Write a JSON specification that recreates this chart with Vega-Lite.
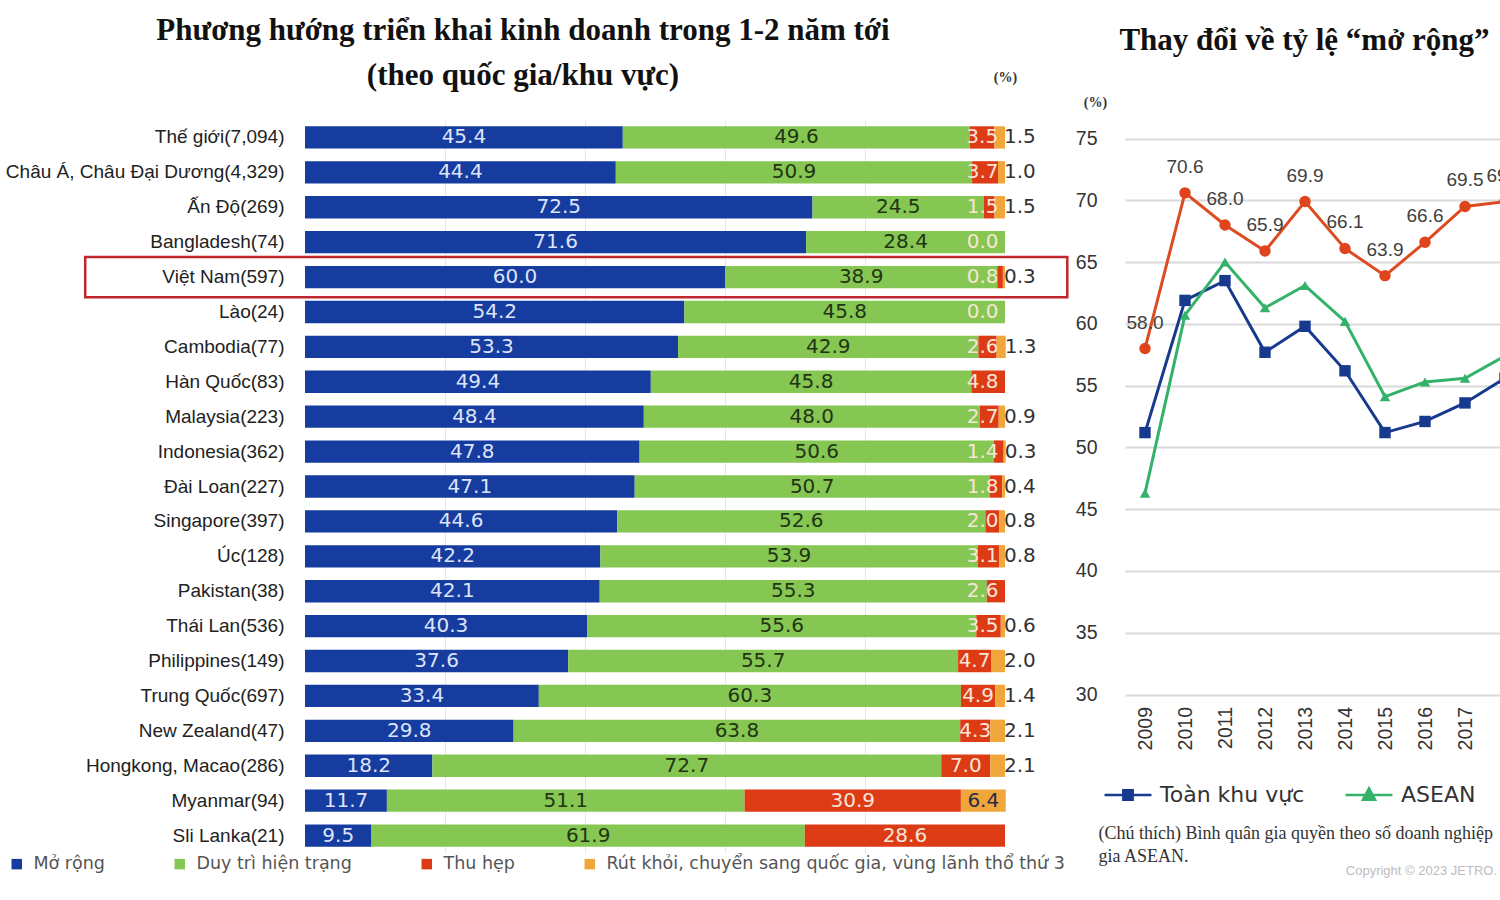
{
  "$schema": "https://vega.github.io/schema/vega-lite/v6.json",
  "background": "white",
  "padding": {"left": 5, "top": 15, "right": 0, "bottom": 2},
  "bounds": "flush",
  "spacing": 120,
  "resolve": {"scale": {"color": "independent"}, "legend": {"color": "independent"}},
  "title": {"text": "Copyright © 2023 JETRO.", "orient": "bottom", "anchor": "end", "fontSize": 13, "font": "Liberation Sans", "fontWeight": "normal", "color": "#bcbcbc", "offset": -8, "dx": -3},
  "config": {"view": {"stroke": null}, "font": "Liberation Sans"},
  "hconcat": [
    {
      "width": 700,
      "height": 733,
      "title": {"text": ["Phương hướng triển khai kinh doanh trong 1-2 năm tới", "(theo quốc gia/khu vực)"], "font": "Liberation Serif", "fontSize": 31, "fontWeight": "bold", "lineHeight": 45, "color": "#111111", "anchor": "middle", "offset": -22, "dx": -132},
      "data": {"values": [
        {"r": "Thế giới(7,094)", "a": 45.4, "b": 49.6, "c": 3.5, "d": 1.5},
        {"r": "Châu Á, Châu Đại Dương(4,329)", "a": 44.4, "b": 50.9, "c": 3.7, "d": 1.0},
        {"r": "Ấn Độ(269)", "a": 72.5, "b": 24.5, "c": 1.5, "d": 1.5},
        {"r": "Bangladesh(74)", "a": 71.6, "b": 28.4, "c": 0.0, "d": null},
        {"r": "Việt Nam(597)", "a": 60.0, "b": 38.9, "c": 0.8, "d": 0.3},
        {"r": "Lào(24)", "a": 54.2, "b": 45.8, "c": 0.0, "d": null},
        {"r": "Cambodia(77)", "a": 53.3, "b": 42.9, "c": 2.6, "d": 1.3},
        {"r": "Hàn Quốc(83)", "a": 49.4, "b": 45.8, "c": 4.8, "d": null},
        {"r": "Malaysia(223)", "a": 48.4, "b": 48.0, "c": 2.7, "d": 0.9},
        {"r": "Indonesia(362)", "a": 47.8, "b": 50.6, "c": 1.4, "d": 0.3},
        {"r": "Đài Loan(227)", "a": 47.1, "b": 50.7, "c": 1.8, "d": 0.4},
        {"r": "Singapore(397)", "a": 44.6, "b": 52.6, "c": 2.0, "d": 0.8},
        {"r": "Úc(128)", "a": 42.2, "b": 53.9, "c": 3.1, "d": 0.8},
        {"r": "Pakistan(38)", "a": 42.1, "b": 55.3, "c": 2.6, "d": null},
        {"r": "Thái Lan(536)", "a": 40.3, "b": 55.6, "c": 3.5, "d": 0.6},
        {"r": "Philippines(149)", "a": 37.6, "b": 55.7, "c": 4.7, "d": 2.0},
        {"r": "Trung Quốc(697)", "a": 33.4, "b": 60.3, "c": 4.9, "d": 1.4},
        {"r": "New Zealand(47)", "a": 29.8, "b": 63.8, "c": 4.3, "d": 2.1},
        {"r": "Hongkong, Macao(286)", "a": 18.2, "b": 72.7, "c": 7.0, "d": 2.1},
        {"r": "Myanmar(94)", "a": 11.7, "b": 51.1, "c": 30.9, "d": 6.4},
        {"r": "Sli Lanka(21)", "a": 9.5, "b": 61.9, "c": 28.6, "d": null}
      ]},
      "transform": [
        {"fold": ["a", "b", "c", "d"], "as": ["k", "v"]},
        {"filter": "isValid(datum.v)"},
        {"stack": "v", "groupby": ["r"], "sort": [{"field": "k", "order": "ascending"}], "as": ["v0", "v1"]},
        {"calculate": "(datum.v0 + datum.v1) / 2", "as": "mid"},
        {"calculate": "min(datum.mid, 96.8)", "as": "cmid"}
      ],
      "encoding": {
        "y": {"field": "r", "type": "nominal", "sort": null, "scale": {"paddingInner": 0.36, "paddingOuter": 0.18},
          "axis": {"title": null, "ticks": false, "domain": false, "labelFont": "Liberation Sans", "labelFontSize": 19, "labelColor": "#222222", "labelPadding": 21, "labelLimit": 400}}
      },
      "layer": [
        {
          "mark": {"type": "bar"},
          "encoding": {
            "x": {"field": "v0", "type": "quantitative", "scale": {"domain": [0, 100], "nice": false},
              "axis": {"orient": "top", "title": "(%)", "labels": false, "ticks": false, "domain": false, "grid": true, "gridColor": "#e6e6e6", "values": [20, 40, 60, 80],
                "titleFont": "Liberation Serif", "titleFontSize": 14, "titleFontWeight": "bold", "titleColor": "#333333", "titleX": 700, "titleY": -43, "titleAlign": "center", "titleBaseline": "middle"}},
            "x2": {"field": "v1"},
            "color": {"field": "k", "type": "nominal",
              "scale": {"domain": ["a", "b", "c", "d"], "range": ["#153c9e", "#86c652", "#dd3b16", "#f1a63c"]},
              "legend": {"orient": "none", "legendX": -297, "legendY": 735, "direction": "horizontal", "title": null, "symbolType": "square", "symbolSize": 110, "symbolStrokeWidth": 0,
                "labelFont": "DejaVu Sans", "labelFontSize": 17.5, "labelColor": "#555555", "labelOffset": 8, "columnPadding": 66, "labelLimit": 700,
                "labelExpr": "datum.label == 'a' ? 'Mở rộng' : datum.label == 'b' ? 'Duy trì hiện trạng' : datum.label == 'c' ? 'Thu hẹp' : 'Rút khỏi, chuyển sang quốc gia, vùng lãnh thổ thứ 3'"}}
          }
        },
        {
          "transform": [{"filter": "datum.r == 'Việt Nam(597)' && datum.k == 'a'"}],
          "mark": {"type": "bar", "height": {"band": 1.8}, "fill": "transparent", "stroke": "#c0262d", "strokeWidth": 2.5},
          "encoding": {"x": {"datum": -31.4}, "x2": {"datum": 108.9}}
        },
        {
          "transform": [{"filter": "datum.k == 'a'"}],
          "mark": {"type": "text", "font": "DejaVu Sans", "fontSize": 20, "color": "#dde4fa"},
          "encoding": {"x": {"field": "mid", "type": "quantitative"}, "text": {"field": "v", "type": "quantitative", "format": ".1f"}}
        },
        {
          "transform": [{"filter": "datum.k == 'b'"}],
          "mark": {"type": "text", "font": "DejaVu Sans", "fontSize": 20, "color": "#1f3514"},
          "encoding": {"x": {"field": "mid", "type": "quantitative"}, "text": {"field": "v", "type": "quantitative", "format": ".1f"}}
        },
        {
          "transform": [{"filter": "datum.k == 'c'"}],
          "mark": {"type": "text", "font": "DejaVu Sans", "fontSize": 20, "color": "#f7e6d6"},
          "encoding": {"x": {"field": "cmid", "type": "quantitative"}, "text": {"field": "v", "type": "quantitative", "format": ".1f"}}
        },
        {
          "transform": [{"filter": "datum.k == 'd' && datum.v < 5"}],
          "mark": {"type": "text", "font": "DejaVu Sans", "fontSize": 20, "color": "#333333", "align": "left", "dx": -1},
          "encoding": {"x": {"field": "v1", "type": "quantitative"}, "text": {"field": "v", "type": "quantitative", "format": ".1f"}}
        },
        {
          "transform": [{"filter": "datum.k == 'd' && datum.v >= 5"}],
          "mark": {"type": "text", "font": "DejaVu Sans", "fontSize": 20, "color": "#2a2a4a"},
          "encoding": {"x": {"field": "mid", "type": "quantitative"}, "text": {"field": "v", "type": "quantitative", "format": ".1f"}}
        }
      ]
    },
    {
      "width": 375,
      "height": 574.5,
      "title": {"text": "Thay đổi về tỷ lệ “mở rộng”", "font": "Liberation Serif", "fontSize": 31, "fontWeight": "bold", "color": "#111111", "anchor": "middle", "frame": "group", "offset": 38, "dx": -8},
      "data": {"values": [
        {"yr": 2009, "s": "Toàn khu vực", "v": 51.2},
        {"yr": 2010, "s": "Toàn khu vực", "v": 61.9},
        {"yr": 2011, "s": "Toàn khu vực", "v": 63.5},
        {"yr": 2012, "s": "Toàn khu vực", "v": 57.7},
        {"yr": 2013, "s": "Toàn khu vực", "v": 59.8},
        {"yr": 2014, "s": "Toàn khu vực", "v": 56.2},
        {"yr": 2015, "s": "Toàn khu vực", "v": 51.2},
        {"yr": 2016, "s": "Toàn khu vực", "v": 52.1},
        {"yr": 2017, "s": "Toàn khu vực", "v": 53.6},
        {"yr": 2018, "s": "Toàn khu vực", "v": 55.6},
        {"yr": 2009, "s": "ASEAN", "v": 46.3},
        {"yr": 2010, "s": "ASEAN", "v": 60.7},
        {"yr": 2011, "s": "ASEAN", "v": 65.0},
        {"yr": 2012, "s": "ASEAN", "v": 61.3},
        {"yr": 2013, "s": "ASEAN", "v": 63.1},
        {"yr": 2014, "s": "ASEAN", "v": 60.2},
        {"yr": 2015, "s": "ASEAN", "v": 54.1},
        {"yr": 2016, "s": "ASEAN", "v": 55.3},
        {"yr": 2017, "s": "ASEAN", "v": 55.6},
        {"yr": 2018, "s": "ASEAN", "v": 57.4},
        {"yr": 2009, "s": "Việt Nam", "v": 58.0},
        {"yr": 2010, "s": "Việt Nam", "v": 70.6},
        {"yr": 2011, "s": "Việt Nam", "v": 68.0},
        {"yr": 2012, "s": "Việt Nam", "v": 65.9},
        {"yr": 2013, "s": "Việt Nam", "v": 69.9},
        {"yr": 2014, "s": "Việt Nam", "v": 66.1},
        {"yr": 2015, "s": "Việt Nam", "v": 63.9},
        {"yr": 2016, "s": "Việt Nam", "v": 66.6},
        {"yr": 2017, "s": "Việt Nam", "v": 69.5},
        {"yr": 2018, "s": "Việt Nam", "v": 69.9}
      ]},
      "encoding": {
        "x": {"field": "yr", "type": "quantitative", "scale": {"domain": [2008.5, 2017.875], "nice": false, "zero": false},
          "axis": {"values": [2009, 2010, 2011, 2012, 2013, 2014, 2015, 2016, 2017], "format": "d", "labelAngle": -90, "labelFont": "Liberation Sans", "labelFontSize": 19.5, "labelColor": "#333333", "labelPadding": 12,
            "domain": false, "ticks": false, "grid": false,
            "title": ["(Chú thích) Bình quân gia quyền theo số doanh nghiệp", "gia ASEAN."], "titleFont": "Liberation Serif", "titleFontSize": 18, "titleFontWeight": "normal", "titleColor": "#333333",
            "titleX": -27, "titleY": 130, "titleAlign": "left", "titleBaseline": "top", "titleLineHeight": 23, "titleAnchor": "start", "titleLimit": 1000}},
        "y": {"field": "v", "type": "quantitative", "scale": {"domain": [30, 76.5], "nice": false, "zero": false},
          "axis": {"title": "(%)", "titleAngle": 0, "titleX": -30, "titleY": -18, "titleAlign": "center", "titleBaseline": "middle", "titleFont": "Liberation Serif", "titleFontSize": 14, "titleFontWeight": "bold", "titleColor": "#333333",
            "values": [30, 35, 40, 45, 50, 55, 60, 65, 70, 75], "grid": true, "gridColor": "#dadada", "gridWidth": 2, "domain": false, "ticks": false,
            "labelFont": "Liberation Sans", "labelFontSize": 19.5, "labelColor": "#333333", "labelPadding": 28}}
      },
      "layer": [
        {
          "mark": {"type": "line", "strokeWidth": 3, "clip": true},
          "encoding": {
            "color": {"field": "s", "type": "nominal",
              "scale": {"domain": ["Toàn khu vực", "ASEAN", "Việt Nam"], "range": ["#173a8f", "#34b26a", "#dd4b21"]},
              "legend": {"values": ["Toàn khu vực", "ASEAN"], "orient": "none", "legendX": -22, "legendY": 650, "direction": "horizontal", "title": null,
                "symbolType": "stroke", "symbolSize": 2200, "symbolStrokeWidth": 2.5,
                "labelFont": "DejaVu Sans", "labelFontSize": 22, "labelColor": "#333333", "labelOffset": 7, "columnPadding": 35,
                "encode": {"symbols": {"update": {
                  "shape": {"signal": "datum.value == 'ASEAN' ? 'M-1,0H1M0,-0.28L0.26,0.2H-0.26Z' : 'M-1,0H1M-0.2,-0.2H0.2V0.2H-0.2Z'"},
                  "fill": {"signal": "datum.value == 'ASEAN' ? '#34b26a' : '#173a8f'"}
                }}}}}
          }
        },
        {
          "transform": [{"filter": "datum.s == 'Toàn khu vực'"}],
          "mark": {"type": "point", "shape": "square", "filled": true, "opacity": 1, "size": 130, "color": "#173a8f", "clip": true}
        },
        {
          "transform": [{"filter": "datum.s == 'ASEAN'"}],
          "mark": {"type": "point", "shape": "triangle-up", "filled": true, "opacity": 1, "size": 110, "color": "#34b26a", "clip": true}
        },
        {
          "transform": [{"filter": "datum.s == 'Việt Nam'"}],
          "mark": {"type": "point", "shape": "circle", "filled": true, "opacity": 1, "size": 130, "color": "#e0441c", "clip": true}
        },
        {
          "transform": [{"filter": "datum.s == 'Việt Nam'"}],
          "mark": {"type": "text", "dy": -26, "fontSize": 19, "font": "Liberation Sans", "color": "#404040", "clip": true},
          "encoding": {"text": {"field": "v", "type": "quantitative", "format": ".1f"}}
        }
      ]
    }
  ]
}
